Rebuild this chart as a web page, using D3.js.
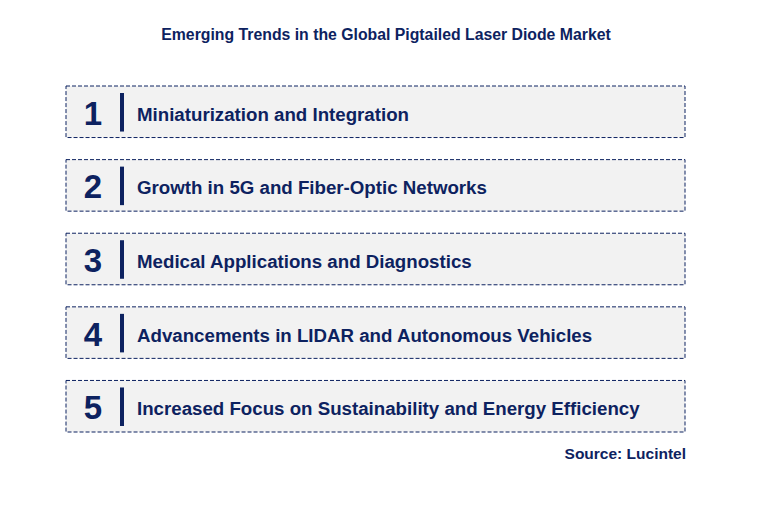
<!DOCTYPE html>
<html>
<head>
<meta charset="UTF-8">
<script src="https://cdn.jsdelivr.net/npm/d3@7"></script>
<style>
  body { margin: 0; background: #fff; }
</style>
</head>
<body>
<div id="chart"></div>
<script>
const title = "Emerging Trends in the Global Pigtailed Laser Diode Market";
const ranks = [1, 2, 3, 4, 5];
const trends = [
    "Miniaturization and Integration",
    "Growth in 5G and Fiber-Optic Networks",
    "Medical Applications and Diagnostics",
    "Advancements in LIDAR and Autonomous Vehicles",
    "Increased Focus on Sustainability and Energy Efficiency"
];
const source = "Source: Lucintel";

const width = 776, height = 507;
const navy = "#0d2260";

const svg = d3.select("#chart").append("svg")
    .attr("width", width)
    .attr("height", height)
    .style("font-family", "Arial, 'Liberation Sans', sans-serif");

svg.append("text")
    .attr("x", 386).attr("y", 40)
    .attr("text-anchor", "middle")
    .attr("font-size", 15.8).attr("font-weight", "bold")
    .attr("fill", navy)
    .text(title);

// row positions from a band scale
const y = d3.scaleBand()
    .domain(ranks)
    .range([86, 432])
    .paddingInner(0.3);

const rows = svg.selectAll("g.row")
    .data(ranks)
    .enter().append("g")
    .attr("class", "row")
    .attr("transform", d => `translate(0,${y(d)})`);

rows.append("rect")
    .attr("x", 66).attr("y", 0)
    .attr("width", 619).attr("height", y.bandwidth())
    .attr("fill", "#f2f2f2")
    .attr("stroke", navy)
    .attr("stroke-width", 1)
    .attr("stroke-dasharray", "4,2");

rows.append("text")
    .attr("x", 93).attr("y", y.bandwidth() / 2 + 13)
    .attr("text-anchor", "middle")
    .attr("font-size", 33).attr("font-weight", "bold")
    .attr("fill", navy)
    .text(d => d);

rows.append("line")
    .attr("x1", 122).attr("x2", 122)
    .attr("y1", 7).attr("y2", y.bandwidth() - 6)
    .attr("stroke", navy).attr("stroke-width", 4);

rows.append("text")
    .attr("x", 137).attr("y", y.bandwidth() / 2 + 9)
    .attr("font-size", 18.7).attr("font-weight", "bold")
    .attr("fill", navy)
    .text((d, i) => trends[i]);

svg.append("text")
    .attr("x", 686).attr("y", 459)
    .attr("text-anchor", "end")
    .attr("font-size", 15.5).attr("font-weight", "bold")
    .attr("fill", navy)
    .text(source);
</script>
</body>
</html>
